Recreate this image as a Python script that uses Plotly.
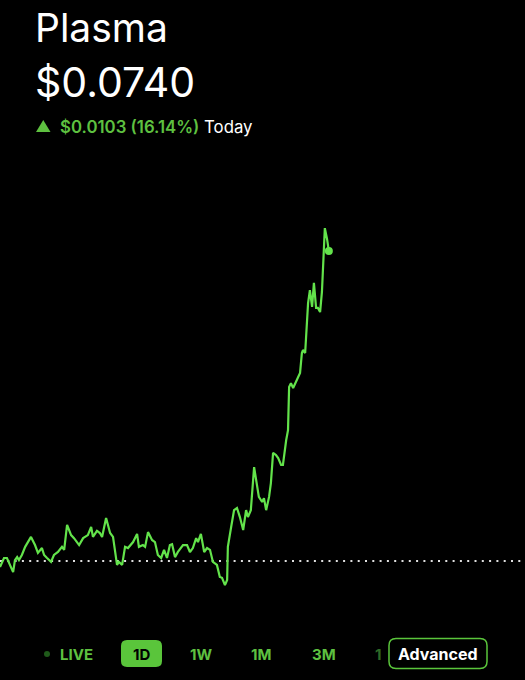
import plotly.graph_objects as go

# ---- data ----
asset_name = "Plasma"
last_price = 0.0740
change_abs = 0.0103
change_pct = 16.14
prev_close = 0.0637

minutes = [0, 11, 19, 27, 36, 41, 47, 52, 60, 69, 85, 96, 104, 115, 121, 129, 140, 148, 159, 170,
           176, 184, 195, 203, 217, 228, 241, 250, 255, 266, 274, 280, 291, 302, 310, 321, 326, 335,
           343, 351, 365, 376, 381, 392, 398, 406, 417, 425, 433, 442, 450, 458, 466, 472, 480, 488,
           502, 513, 521, 529, 538, 543, 551, 560, 568, 576, 584, 595, 603, 609, 617, 623, 625, 634,
           642, 650, 658, 667, 675, 680, 688, 697, 705, 710, 719, 724, 730, 738, 743, 749, 757, 763,
           771, 776, 785, 790, 793, 798, 804, 815, 823, 828, 831, 837, 842, 845, 850, 856, 861, 867,
           872, 878, 883, 891, 897, 902]
prices = [0.06350, 0.06380, 0.06380, 0.06357, 0.06333, 0.06373, 0.06383, 0.06373, 0.06390, 0.06417,
          0.06450, 0.06423, 0.06397, 0.06413, 0.06390, 0.06380, 0.06367, 0.06390, 0.06400, 0.06417,
          0.06407, 0.06490, 0.06456, 0.06446, 0.06423, 0.06446, 0.06456, 0.06483, 0.06450, 0.06470,
          0.06463, 0.06450, 0.06513, 0.06463, 0.06450, 0.06357, 0.06367, 0.06357, 0.06417, 0.06413,
          0.06433, 0.06460, 0.06417, 0.06423, 0.06417, 0.06466, 0.06440, 0.06433, 0.06390, 0.06380,
          0.06407, 0.06380, 0.06423, 0.06426, 0.06383, 0.06400, 0.06423, 0.06423, 0.06400, 0.06413,
          0.06446, 0.06433, 0.06460, 0.06400, 0.06413, 0.06407, 0.06367, 0.06357, 0.06317, 0.06314,
          0.06290, 0.06307, 0.06417, 0.06483, 0.06539, 0.06546, 0.06516, 0.06473, 0.06539, 0.06516,
          0.06539, 0.06682, 0.06623, 0.06583, 0.06566, 0.06579, 0.06539, 0.06583, 0.06629, 0.06729,
          0.06722, 0.06712, 0.06689, 0.06689, 0.06772, 0.06805, 0.06948, 0.06961, 0.06945, 0.06971,
          0.06995, 0.07061, 0.07071, 0.07061, 0.07181, 0.07227, 0.07270, 0.07214, 0.07294, 0.07211,
          0.07211, 0.07197, 0.07264, 0.07476, 0.07440, 0.07400]

day_minutes = [0, 1440]
range_labels = ["LIVE", "1D", "1W", "1M", "3M", "1"]
advanced_label = "Advanced"

# ---- styling ----
W, H = 525, 680
GREEN_LINE = "#63e34b"
GREEN_TEXT = "#5ec140"
GREEN_BTN = "#5ac53b"
FONT = "Inter, Roboto, 'Noto Sans', sans-serif"

def px(x):
    return x / W

def py(y):
    return 1 - y / H

def rounded_rect(x0, y0, x1, y1, r):
    X = lambda v: f"{px(v):.5f}"
    Y = lambda v: f"{py(v):.5f}"
    return (f"M {X(x0 + r)},{Y(y0)} L {X(x1 - r)},{Y(y0)} "
            f"Q {X(x1)},{Y(y0)} {X(x1)},{Y(y0 + r)} L {X(x1)},{Y(y1 - r)} "
            f"Q {X(x1)},{Y(y1)} {X(x1 - r)},{Y(y1)} L {X(x0 + r)},{Y(y1)} "
            f"Q {X(x0)},{Y(y1)} {X(x0)},{Y(y1 - r)} L {X(x0)},{Y(y0 + r)} "
            f"Q {X(x0)},{Y(y0)} {X(x0 + r)},{Y(y0)} Z")

fig = go.Figure()

fig.add_trace(go.Scatter(x=day_minutes, y=[prev_close, prev_close], mode="lines",
                         line=dict(color="#e0e0e0", width=2, dash="2px,5.3px"),
                         hoverinfo="skip", showlegend=False))
fig.add_trace(go.Scatter(x=minutes, y=prices, mode="lines",
                         line=dict(color=GREEN_LINE, width=2.2),
                         showlegend=False))
fig.add_trace(go.Scatter(x=[minutes[-1]], y=[prices[-1]], mode="markers",
                         marker=dict(color=GREEN_LINE, size=8),
                         showlegend=False))

top_px, bot_px = 200, 600
k = (last_price - prev_close) / (561 - 251)
y_top = prev_close + (561 - top_px) * k
y_bot = prev_close - (bot_px - 561) * k

fig.update_layout(
    width=W, height=H,
    margin=dict(l=0, r=0, t=0, b=0),
    paper_bgcolor="black", plot_bgcolor="black",
    xaxis=dict(range=[0, 1440], visible=False, fixedrange=True),
    yaxis=dict(range=[y_bot, y_top], visible=False, domain=[py(bot_px), py(top_px)]),
    font=dict(family=FONT, color="white"),
)

ann = []
ann.append(dict(x=px(33), y=py(28), text=asset_name, font=dict(size=39, color="white"),
                xanchor="left", yanchor="middle"))
ann.append(dict(x=px(33), y=py(82), text=f"${last_price:.4f}", font=dict(size=41, color="white"),
                xanchor="left", yanchor="middle"))
ann.append(dict(x=px(58), y=py(127),
                text=f'<span style="color:{GREEN_TEXT};font-weight:600">${change_abs:.4f} ({change_pct:.2f}%)</span> Today',
                font=dict(size=16.8, color="white"), xanchor="left", yanchor="middle"))

shapes = []
shapes.append(dict(type="path", xref="paper", yref="paper",
                   path=f"M {px(36)},{py(132)} L {px(50.5)},{py(132)} L {px(43.25)},{py(120)} Z",
                   fillcolor=GREEN_TEXT, line=dict(width=0)))

btn_y = 654
label_x = {"LIVE": 76, "1D": 141.5, "1W": 200.5, "1M": 261, "3M": 323.5, "1": 378}
shapes.append(dict(type="circle", xref="paper", yref="paper",
                   x0=px(44), x1=px(50), y0=py(651), y1=py(657),
                   fillcolor="#1f5a1a", line=dict(width=0)))
shapes.append(dict(type="path", xref="paper", yref="paper",
                   path=rounded_rect(121, 640, 162, 667, 6),
                   fillcolor=GREEN_BTN, line=dict(width=0)))
shapes.append(dict(type="path", xref="paper", yref="paper",
                   path=rounded_rect(389, 638.5, 487, 668.5, 7),
                   fillcolor="black", line=dict(color=GREEN_BTN, width=1.5)))

for lab in range_labels:
    col = "black" if lab == "1D" else (GREEN_TEXT if lab != "1" else "#2f6a26")
    ann.append(dict(x=px(label_x[lab]), y=py(btn_y), text=f"<b>{lab}</b>",
                    font=dict(size=15, color=col), xanchor="center", yanchor="middle"))
ann.append(dict(x=px(438), y=py(btn_y), text=f"<b>{advanced_label}</b>",
                font=dict(size=16, color="white"), xanchor="center", yanchor="middle"))

for a in ann:
    a.update(xref="paper", yref="paper", showarrow=False)

fig.update_layout(annotations=ann, shapes=shapes)
fig.write_html("out.html",
               config={"displayModeBar": False},
               post_script="document.body.style.margin='0';document.body.style.background='black';")
